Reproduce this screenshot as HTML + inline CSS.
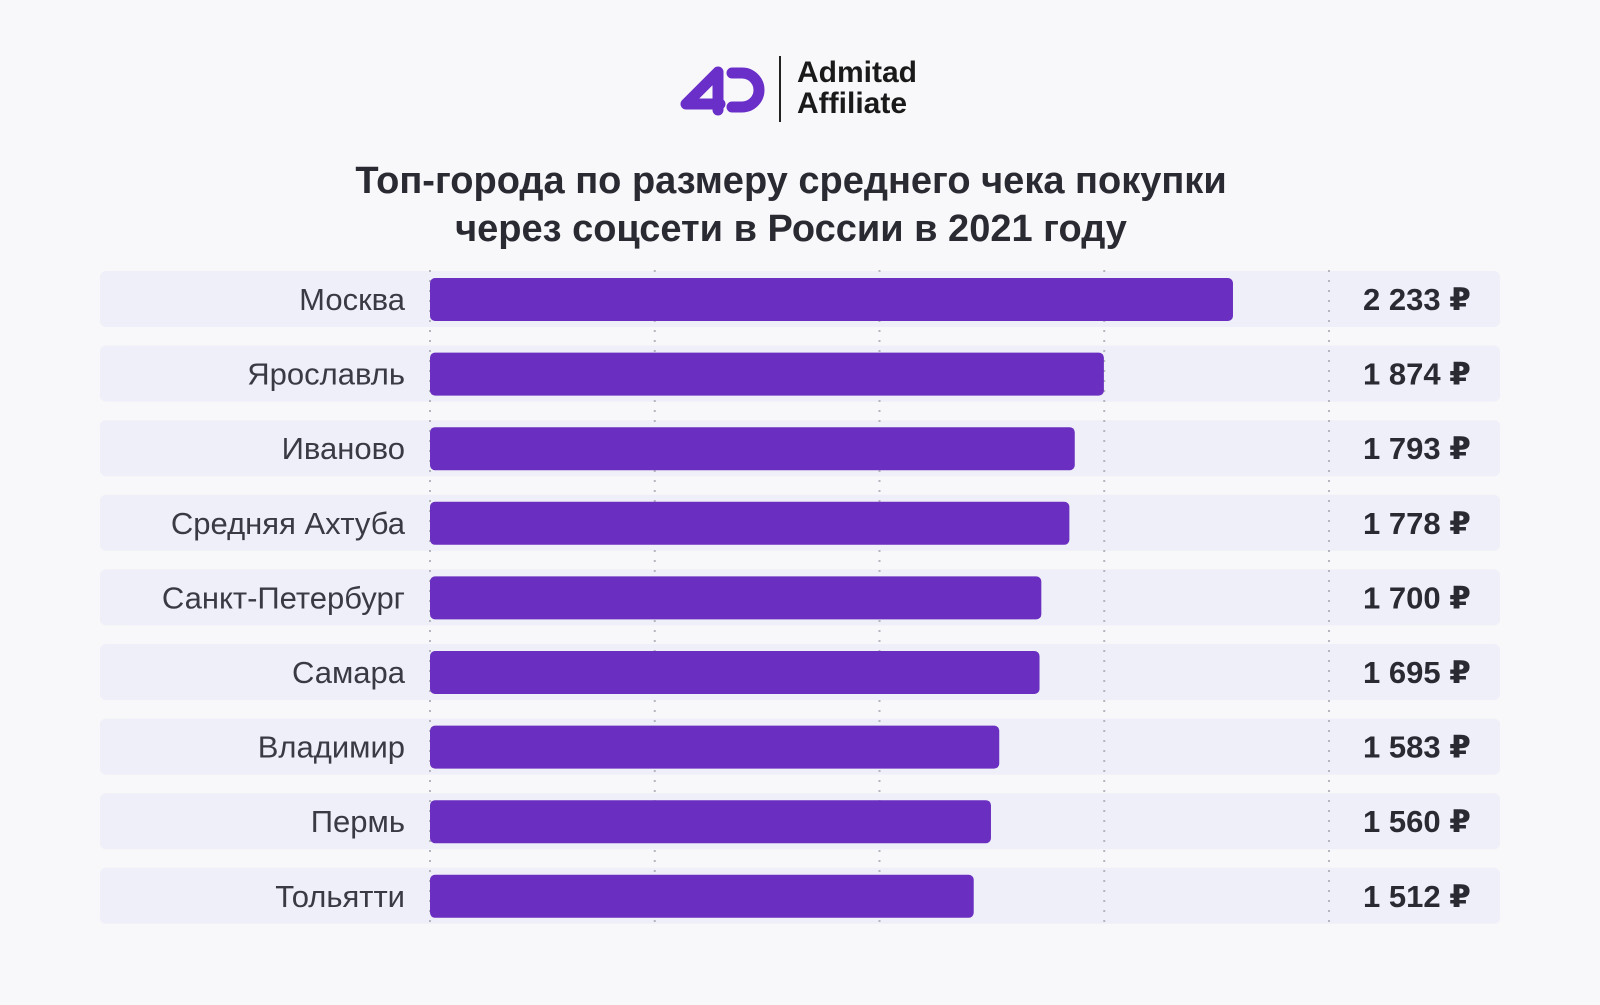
<!DOCTYPE html>
<html><head><meta charset="utf-8"><style>
body{margin:0;width:1600px;height:1000px;background:#f8f8fa;font-family:"Liberation Sans","DejaVu Sans",sans-serif;overflow:hidden}
</style></head><body>
<svg width="1600" height="1000">
<g>
<path d="M720 104 L686 104 L718 72 L718 110" fill="none" stroke="#6a2fc9" stroke-width="11" stroke-linejoin="round" stroke-linecap="round"/>
<path d="M732 73 L742 73 A17 17 0 0 1 742 107 L732 107" fill="none" stroke="#6a2fc9" stroke-width="11" stroke-linecap="round"/>
<line x1="780" y1="56" x2="780" y2="122" stroke="#222" stroke-width="2"/>
<text x="797" y="82" font-size="30" font-weight="bold" fill="#1a1a1a">Admitad</text>
<text x="797" y="113" font-size="30" font-weight="bold" fill="#1a1a1a">Affiliate</text>
</g>
<text x="791" y="193" text-anchor="middle" font-size="38" font-weight="bold" fill="#2a2a33">Топ-города по размеру среднего чека покупки</text>
<text x="791" y="241" text-anchor="middle" font-size="38" font-weight="bold" fill="#2a2a33">через соцсети в России в 2021 году</text>
<g id="rows"></g>
<g id="grid"></g>
<g id="bars"></g>
</svg>
<script>
const cities=["Москва","Ярославль","Иваново","Средняя Ахтуба","Санкт-Петербург","Самара","Владимир","Пермь","Тольятти"];
const values=[2233,1874,1793,1778,1700,1695,1583,1560,1512];
const labels=["2 233 ₽","1 874 ₽","1 793 ₽","1 778 ₽","1 700 ₽","1 695 ₽","1 583 ₽","1 560 ₽","1 512 ₽"];
const gridTicks=[0,625,1250,1875,2500];
const NS="http://www.w3.org/2000/svg";
const x0=430,x1=1329,xmax=2500;
const xs=v=>x0+(x1-x0)*v/xmax;
const yc=i=>299+i*74.6;
function mk(tag,attrs,parent,text){const e=document.createElementNS(NS,tag);for(const k in attrs)e.setAttribute(k,attrs[k]);if(text!==undefined)e.textContent=text;document.getElementById(parent).appendChild(e);return e;}
cities.forEach((c,i)=>{
  const r=mk('rect',{x:100,y:yc(i)-28,width:1400,height:56,rx:6,fill:'#eeeff8'},'rows');
  
  
  const t=mk('text',{x:405,y:yc(i)+11,'text-anchor':'end','font-size':31,fill:'#3a3a44'},'rows',c);
  
  
  const b=mk('rect',{x:xs(0),y:yc(i)-21,width:xs(values[i])-xs(0),height:43,rx:5,fill:'#6a2fc0'},'bars');
  
  
  const v=mk('text',{x:1363,y:yc(i)+11,'font-size':31,'font-weight':'bold',fill:'#2a2a33'},'bars',labels[i]);
  
  
});
gridTicks.forEach(g=>{
  const l=mk('line',{x1:xs(g),x2:xs(g),y1:270,y2:925,stroke:'#b5b5c0','stroke-width':2,'stroke-dasharray':'2 8'},'grid');
  
  
});
</script>
</body></html>
